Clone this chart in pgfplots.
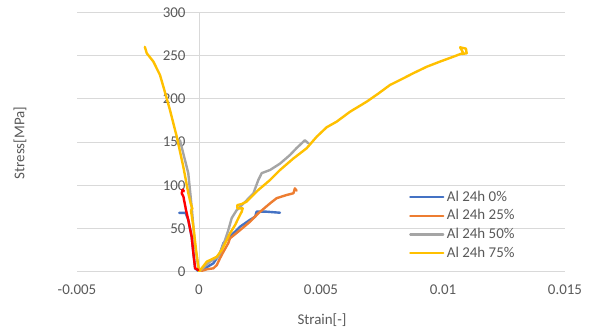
\documentclass[border=0pt]{standalone}
\usepackage{pgfplots}
\pgfplotsset{compat=1.18}
\usepackage{fontspec}
\setmainfont{Carlito}
\definecolor{exblue}{HTML}{4472C4}
\definecolor{exorange}{HTML}{ED7D31}
\definecolor{exgray}{HTML}{A5A5A5}
\definecolor{exyellow}{HTML}{FFC000}
\definecolor{exred}{HTML}{FF0000}
\definecolor{gridc}{HTML}{D9D9D9}
\definecolor{txt}{HTML}{595959}
\begin{document}
\begin{tikzpicture}
\path[use as bounding box] (0,0) rectangle (592bp,333bp);
\begin{axis}[
  at={(77bp,61.3bp)}, anchor=south west,
  scale only axis, width=488bp, height=259.4bp,
  xmin=-0.005, xmax=0.015, ymin=0, ymax=300,
  axis x line*=bottom, axis y line*=middle,
  hide obscured x ticks=false, hide obscured y ticks=false,
  axis line style={gridc, line width=0.75bp},
  major tick length=0pt,
  xtick={-0.005,0,0.005,0.01,0.015},
  ytick={0,50,100,150,200,250,300},
  scaled x ticks=false,
  /pgf/number format/assume math mode=true,
  xticklabel style={/pgf/number format/fixed, /pgf/number format/precision=3, yshift=-10bp},
  yticklabel style={xshift=-10bp},
  ymajorgrids, grid style={gridc, line width=0.75bp},
  tick label style={font=\fontsize{15}{18}\selectfont, text=txt},
  xlabel={Strain[-]}, ylabel={Stress[MPa]},
  every axis x label/.style={at={(axis description cs:0.502,-0.186)}, anchor=center, font=\fontsize{15}{18}\selectfont, text=txt},
  every axis y label/.style={at={(axis description cs:-0.117,0.496)}, anchor=center, rotate=90, font=\fontsize{15}{18}\selectfont, text=txt},
  legend style={draw=none, fill=none, inner sep=0pt, at={(axis description cs:0.6803,0.3242)}, anchor=north west,
    font=\fontsize{15}{18}\selectfont, text=txt, row sep=0pt,
    nodes={inner sep=2.5bp, text height=10.7bp, text depth=3bp}},
  legend cell align=left,
  legend image code/.code={\draw[#1, line width=2.2bp] (0bp,0bp) -- (33bp,0bp);},
  every axis plot/.append style={line width=2.4bp, line join=round, line cap=round},
]
% Al 24h 0%
\addplot[exblue] coordinates {
(-0.00081,68) (-0.00055,68) (-0.00044,60) (-0.0003,40) (-0.00016,4) (0,0)
(0.00059,9.7) (0.00086,21) (0.001,33) (0.00127,40.5) (0.00168,52) (0.00209,60)
(0.0023,63.6) (0.00236,69.4) (0.00277,69.4) (0.00332,68.2)
};
\addlegendentry{Al 24h 0\%}
% Al 24h 25%
\addplot[exorange] coordinates {
(0,0) (0.00032,2.8) (0.00059,3.9) (0.00073,7.7) (0.00086,15.5) (0.001,23) (0.0012,33)
(0.00127,38.6) (0.00168,48) (0.00209,57.8) (0.00243,67.5) (0.00291,79) (0.00318,85)
(0.00359,88.7) (0.00387,90.7) (0.00393,96.4) (0.004,93.7)
};
\addlegendentry{Al 24h 25\%}
% Al 24h 50%
\addplot[exgray] coordinates {
(-0.00078,152) (-0.00044,114) (-0.0003,75) (-0.00016,29) (0,0)
(0.00045,11.6) (0.00079,17) (0.00107,36.7) (0.0012,48) (0.00134,62) (0.00154,71)
(0.0019,81) (0.00223,90.7) (0.00243,106) (0.00257,114) (0.00291,117.6) (0.00332,125)
(0.00373,135) (0.004,143) (0.00434,152) (0.00448,148.5)
};
\addlegendentry{Al 24h 50\%}
% Al 24h 75%
\addplot[exyellow] coordinates {
(-0.00222,260) (-0.00214,252.6) (-0.00187,243) (-0.0016,227.5) (-0.00146,214)
(-0.00119,187) (-0.00091,156) (-0.00064,121) (-0.00044,91) (-0.00034,79) (-0.00027,73)
(-0.00033,71) (-0.00023,52) (-0.00012,25) (0,0)
(0.00032,11.6) (0.00073,17.3) (0.00093,25) (0.00107,32.8) (0.00127,44.4) (0.00148,54)
(0.00161,61.7) (0.00175,69.4) (0.00179,73.3) (0.00157,73.3) (0.00157,77) (0.00175,78.3)
(0.00195,81) (0.00243,94.5) (0.00291,106) (0.00332,117.6) (0.00387,131) (0.00441,142.7)
(0.00482,156) (0.00523,167) (0.00564,173.5) (0.00619,185) (0.00687,196.6) (0.00735,206)
(0.00783,216) (0.00824,221.7) (0.00878,229.5) (0.00933,237) (0.00988,243) (0.01042,248.6)
(0.01083,253) (0.0107,259.5) (0.01094,258) (0.01097,252.6) (0.01077,251.8)
};
\addlegendentry{Al 24h 75\%}
% unlabelled red series
\addplot[exred, forget plot] coordinates {
(-0.00003,2) (-0.00016,4) (-0.00023,21) (-0.0003,40.5) (-0.00044,60) (-0.00053,71)
(-0.00064,87) (-0.00071,90.7) (-0.00067,95) (-0.00062,93)
};
\end{axis}
\end{tikzpicture}
\end{document}
